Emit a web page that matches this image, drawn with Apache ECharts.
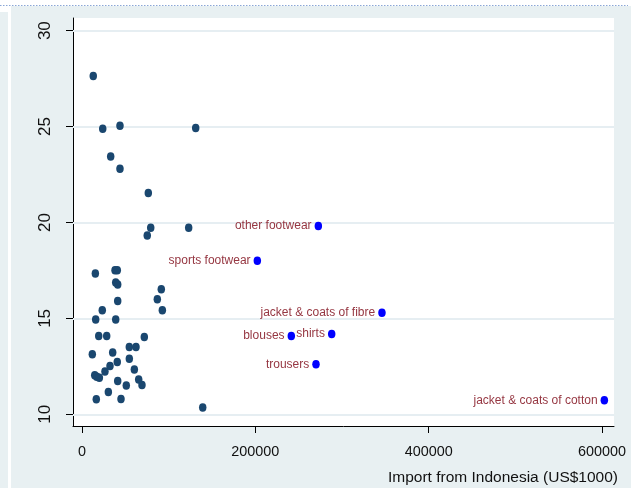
<!DOCTYPE html>
<html>
<head>
<meta charset="utf-8">
<script src="https://cdn.jsdelivr.net/npm/echarts@6/dist/echarts.min.js"></script>
<style>
  html, body { margin: 0; padding: 0; background: #ffffff; }
  #chart { width: 632px; height: 488px; }
</style>
</head>
<body>
<div id="chart"></div>
<script>
// Unlabelled product lines: [import value (US$1000), y value]
const otherProducts = [
  [13000, 27.63], [23900, 24.88], [43800, 25.04], [131200, 24.92],
  [33100, 23.44], [43800, 22.80], [76500, 21.54], [79300, 19.72],
  [75300, 19.32], [123100, 19.72],
  [15400, 17.34], [38100, 17.51], [40700, 17.51], [38900, 16.87],
  [41200, 16.77], [41200, 15.91], [23400, 15.43], [15800, 14.94],
  [38900, 14.94], [91500, 16.52], [86900, 16.00], [92700, 15.43],
  [19300, 14.08], [28500, 14.08], [71900, 14.03], [54600, 13.51],
  [62300, 13.51], [11900, 13.13], [35400, 13.22], [54600, 12.90],
  [40700, 12.73], [32300, 12.52], [26500, 12.23], [60400, 12.33],
  [14700, 12.04], [17000, 11.96], [20000, 11.91], [41200, 11.74],
  [51100, 11.50], [65400, 11.81], [69200, 11.53], [30400, 11.16],
  [16500, 10.78], [45000, 10.80], [139300, 10.35]
];

// Highlighted product lines with their names
const labelledNames = [
  'other footwear', 'sports footwear', 'jacket & coats of fibre',
  'shirts', 'blouses', 'trousers', 'jacket & coats of cotton'
];
const labelledImports = [272700, 202300, 346100, 288100, 241500, 270000, 602700];
const labelledValues = [19.82, 18.00, 15.30, 14.19, 14.08, 12.61, 10.73];

const xTicks = [0, 200000, 400000, 600000];
const yTicks = [10, 15, 20, 25, 30];
const xTitle = 'Import from Indonesia (US$1000)';

const font = "'Liberation Sans', Arial, sans-serif";

const chart = echarts.init(document.getElementById('chart'), null, { renderer: 'canvas' });

const labelledData = labelledNames.map((n, i) => ({ name: n, value: [labelledImports[i], labelledValues[i]] }));

chart.setOption({
  animation: false,
  backgroundColor: '#ffffff',
  graphic: [
    { type: 'rect', z: -10, shape: { x: 0, y: 12, width: 8, height: 476 }, style: { fill: '#e8f0f2' } },
    { type: 'rect', z: -10, shape: { x: 11, y: 6, width: 620, height: 482 }, style: { fill: '#e8f0f2' } },
    { type: 'line', z: -5, shape: { x1: 0, y1: 5.5, x2: 628, y2: 5.5 },
      style: { stroke: '#8aa6d6', lineWidth: 1, lineDash: [1.5, 1.5] } }
  ],
  grid: {
    left: 73, right: 18, top: 18, bottom: 62,
    containLabel: false, outerBoundsMode: 'none',
    show: true, backgroundColor: '#ffffff', borderWidth: 0
  },
  xAxis: {
    type: 'value',
    min: -10385,
    max: 613850,
    name: xTitle,
    nameLocation: 'end',
    nameGap: 4,
    nameTextStyle: {
      fontFamily: font, fontSize: 15.5, color: '#111111',
      align: 'right', verticalAlign: 'top', padding: [44, 0, 0, 0]
    },
    axisLine: { show: true, onZero: false, lineStyle: { color: '#000000', width: 1 } },
    axisTick: { show: true, length: 7, customValues: xTicks, lineStyle: { color: '#000000' } },
    axisLabel: {
      customValues: xTicks, margin: 19, fontFamily: font, fontSize: 14.4, color: '#111111',
      formatter: v => String(v)
    },
    splitLine: { show: false }
  },
  yAxis: {
    type: 'value',
    min: 9.39,
    max: 30.66,
    axisLine: { show: true, onZero: false, lineStyle: { color: '#000000', width: 1 } },
    axisTick: { show: true, length: 7, customValues: yTicks, lineStyle: { color: '#000000' } },
    axisLabel: {
      customValues: yTicks, rotate: 90, margin: 19, fontFamily: font, fontSize: 17, color: '#111111',
      formatter: v => String(v)
    },
    splitLine: { show: false }
  },
  series: [
    {
      type: 'scatter',
      data: [],
      z: 1,
      silent: true,
      markLine: {
        z: 1,
        silent: true,
        symbol: 'none',
        label: { show: false },
        animation: false,
        lineStyle: { color: '#e6eef2', width: 2, type: 'solid' },
        data: yTicks.map(v => ({ yAxis: v }))
      }
    },
    {
      type: 'scatter',
      z: 3,
      symbol: 'circle',
      symbolSize: [7.5, 8.5],
      itemStyle: { color: '#1a476f', opacity: 1 },
      data: otherProducts
    },
    {
      type: 'scatter',
      z: 4,
      symbol: 'circle',
      symbolSize: [7.5, 8.5],
      itemStyle: { color: '#0000ff', opacity: 1 },
      label: {
        show: true,
        position: 'left',
        distance: 3,
        formatter: p => p.name,
        fontFamily: font,
        fontSize: 12,
        color: '#963742'
      },
      data: labelledData
    }
  ]
});
</script>
</body>
</html>
